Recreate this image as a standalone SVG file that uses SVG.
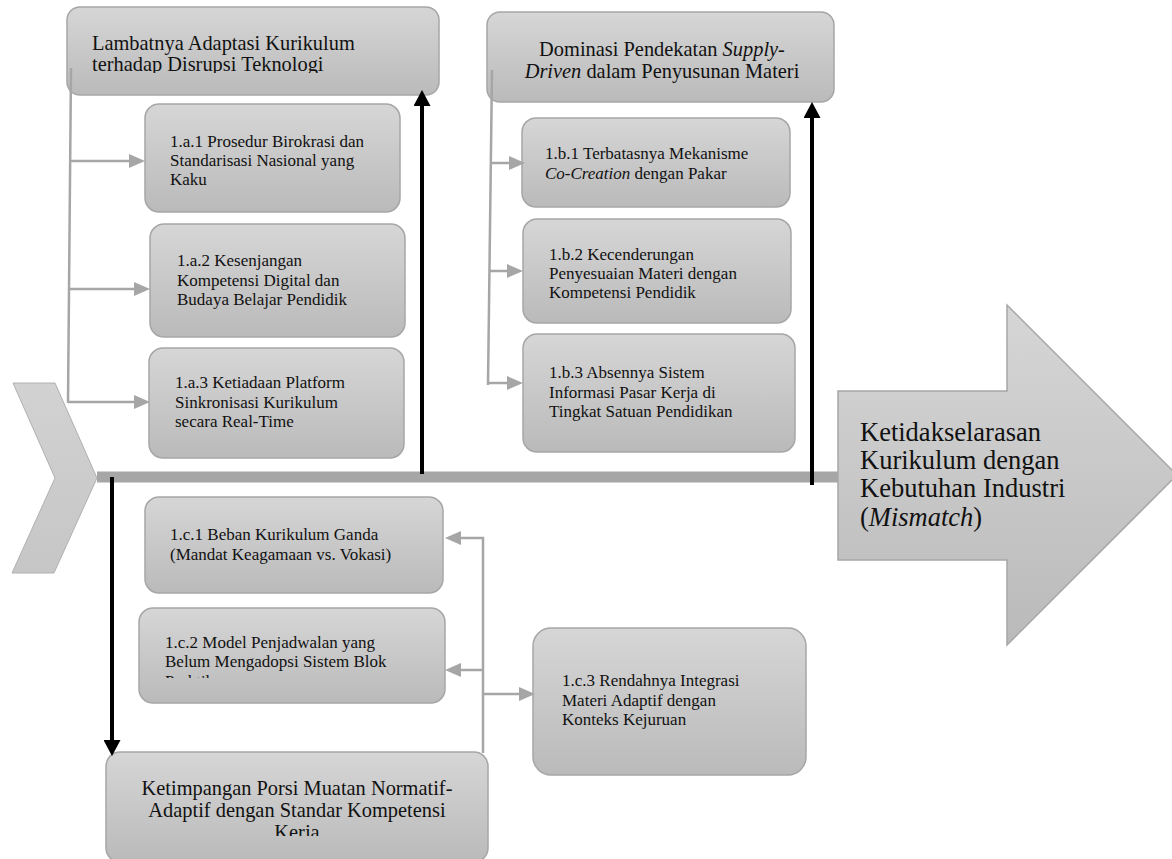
<svg xmlns="http://www.w3.org/2000/svg" width="1172" height="859" viewBox="0 0 1172 859">
<defs>
<linearGradient id="g" x1="0" y1="0" x2="0" y2="1">
<stop offset="0" stop-color="#d6d6d6"/>
<stop offset="1" stop-color="#bababa"/>
</linearGradient>
<linearGradient id="gh" x1="0" y1="0" x2="0" y2="1">
<stop offset="0" stop-color="#d2d2d2"/>
<stop offset="1" stop-color="#c6c6c6"/>
</linearGradient>
<marker id="ga" markerUnits="userSpaceOnUse" markerWidth="16" markerHeight="14" refX="0" refY="7" orient="auto"><path d="M0,0 L16,7 L0,14 z" fill="#a6a6a6"/></marker>
<marker id="ba" markerUnits="userSpaceOnUse" markerWidth="16" markerHeight="17" refX="0" refY="8.5" orient="auto"><path d="M0,0 L16,8.5 L0,17 z" fill="#000"/></marker>
<clipPath id="c1"><rect x="60" y="0" width="390" height="73"/></clipPath>
<clipPath id="c2"><rect x="520" y="200" width="280" height="98.5"/></clipPath>
<clipPath id="c3"><rect x="130" y="600" width="320" height="78"/></clipPath>
<clipPath id="c4"><rect x="100" y="740" width="400" height="96"/></clipPath>
</defs>
<style>
.box{fill:url(#g);stroke:#a6a6a6;stroke-width:1.5}
.t{font-family:"Liberation Serif","Times New Roman",serif;fill:#111}
.s{font-size:17px}
.L{font-size:20.4px}
.X{font-size:26.5px}
.i{font-style:italic}
.gl{stroke:#a6a6a6;stroke-width:2.5;fill:none}
.bl{stroke:#000;stroke-width:4;fill:none}
</style>

<g id="head">
<polygon points="13,383 55,383 97,478 54,573 12,573 55,478" fill="url(#gh)" stroke="#b0b0b0" stroke-width="1"/>
</g>

<g id="effect">
<polygon class="box" points="838,391 1007,391 1007,305 1177,475 1007,645 1007,560 838,560"/>
<text class="t X"><tspan x="860" y="441">Ketidakselarasan</tspan><tspan x="860" y="469">Kurikulum dengan</tspan><tspan x="860" y="497">Kebutuhan Industri</tspan><tspan x="860" y="526">(<tspan class="i">Mismatch</tspan>)</tspan></text>
</g>

<g id="cat-a">
<rect class="box" x="67" y="7" width="372" height="88" rx="13"/>
<text class="t L" clip-path="url(#c1)"><tspan x="92" y="50">Lambatnya Adaptasi Kurikulum</tspan><tspan x="92" y="71">terhadap Disrupsi Teknologi</tspan></text>
</g>
<g id="a1">
<rect class="box" x="145" y="104" width="255" height="108" rx="14"/>
<text class="t s"><tspan x="170" y="146.5">1.a.1 Prosedur Birokrasi dan</tspan><tspan x="170" y="165.5">Standarisasi Nasional yang</tspan><tspan x="170" y="184.5">Kaku</tspan></text>
</g>
<g id="a2">
<rect class="box" x="150" y="224" width="255" height="113" rx="14"/>
<text class="t s"><tspan x="177" y="266">1.a.2 Kesenjangan</tspan><tspan x="177" y="285.5">Kompetensi Digital dan</tspan><tspan x="177" y="305">Budaya Belajar Pendidik</tspan></text>
</g>
<g id="a3">
<rect class="box" x="149" y="348" width="255" height="110" rx="14"/>
<text class="t s"><tspan x="175" y="388">1.a.3 Ketiadaan Platform</tspan><tspan x="175" y="407.5">Sinkronisasi Kurikulum</tspan><tspan x="175" y="427">secara Real-Time</tspan></text>
</g>

<g id="cat-b">
<rect class="box" x="487" y="12" width="347" height="90" rx="13"/>
<text class="t L" text-anchor="middle"><tspan x="662" y="56">Dominasi Pendekatan <tspan class="i">Supply-</tspan></tspan><tspan x="662" y="78"><tspan class="i">Driven</tspan> dalam Penyusunan Materi</tspan></text>
</g>
<g id="b1">
<rect class="box" x="522" y="118" width="268" height="89" rx="14"/>
<text class="t s"><tspan x="545" y="159">1.b.1 Terbatasnya Mekanisme</tspan><tspan x="545" y="179"><tspan class="i">Co-Creation</tspan> dengan Pakar</tspan></text>
</g>
<g id="b2">
<rect class="box" x="523" y="219" width="268" height="104" rx="14"/>
<text class="t s" clip-path="url(#c2)"><tspan x="549" y="260">1.b.2 Kecenderungan</tspan><tspan x="549" y="279">Penyesuaian Materi dengan</tspan><tspan x="549" y="298">Kompetensi Pendidik</tspan></text>
</g>
<g id="b3">
<rect class="box" x="523" y="334" width="272" height="118" rx="14"/>
<text class="t s"><tspan x="549" y="378">1.b.3 Absennya Sistem</tspan><tspan x="549" y="397.5">Informasi Pasar Kerja di</tspan><tspan x="549" y="417">Tingkat Satuan Pendidikan</tspan></text>
</g>

<g id="cat-c">
<rect class="box" x="106" y="752" width="382" height="110" rx="14"/>
<text class="t L" text-anchor="middle" clip-path="url(#c4)"><tspan x="297" y="795">Ketimpangan Porsi Muatan Normatif-</tspan><tspan x="297" y="817">Adaptif dengan Standar Kompetensi</tspan><tspan x="297" y="839">Kerja</tspan></text>
</g>
<g id="c1n">
<rect class="box" x="145" y="497" width="298" height="96" rx="14"/>
<text class="t s"><tspan x="170" y="540">1.c.1 Beban Kurikulum Ganda</tspan><tspan x="170" y="560">(Mandat Keagamaan vs. Vokasi)</tspan></text>
</g>
<g id="c2n">
<rect class="box" x="139" y="608" width="306" height="95" rx="14"/>
<text class="t s" clip-path="url(#c3)"><tspan x="165" y="648">1.c.2 Model Penjadwalan yang</tspan><tspan x="165" y="667">Belum Mengadopsi Sistem Blok</tspan><tspan x="165" y="687">Praktik</tspan></text>
</g>
<g id="c3n">
<rect class="box" x="533" y="628" width="273" height="147" rx="18"/>
<text class="t s"><tspan x="562" y="686">1.c.3 Rendahnya Integrasi</tspan><tspan x="562" y="706">Materi Adaptif dengan</tspan><tspan x="562" y="725">Konteks Kejuruan</tspan></text>
</g>

<g id="connectors">
<line x1="97" y1="477" x2="838" y2="477" stroke="#a6a6a6" stroke-width="11"/>
<path class="gl" d="M71,68 L68,403"/>
<path class="gl" d="M71,161 L129,161" marker-end="url(#ga)"/>
<path class="gl" d="M69,289 L134,289" marker-end="url(#ga)"/>
<path class="gl" d="M68,402 L134,402" marker-end="url(#ga)"/>
<path class="gl" d="M492,70 L488,385"/>
<path class="gl" d="M491,163 L509,163" marker-end="url(#ga)"/>
<path class="gl" d="M490,271 L507,271" marker-end="url(#ga)"/>
<path class="gl" d="M488,383 L507,383" marker-end="url(#ga)"/>
<path class="gl" d="M483,753 L483,538 L461,538" marker-end="url(#ga)"/>
<path class="gl" d="M483,670 L461,670" marker-end="url(#ga)"/>
<path class="gl" d="M483,694 L519,694" marker-end="url(#ga)"/>
<path class="bl" d="M422,474 L422,106" marker-end="url(#ba)"/>
<path class="bl" d="M812,485 L812,118" marker-end="url(#ba)"/>
<path class="bl" d="M112,477 L112,740" marker-end="url(#ba)"/>
</g>
</svg>
